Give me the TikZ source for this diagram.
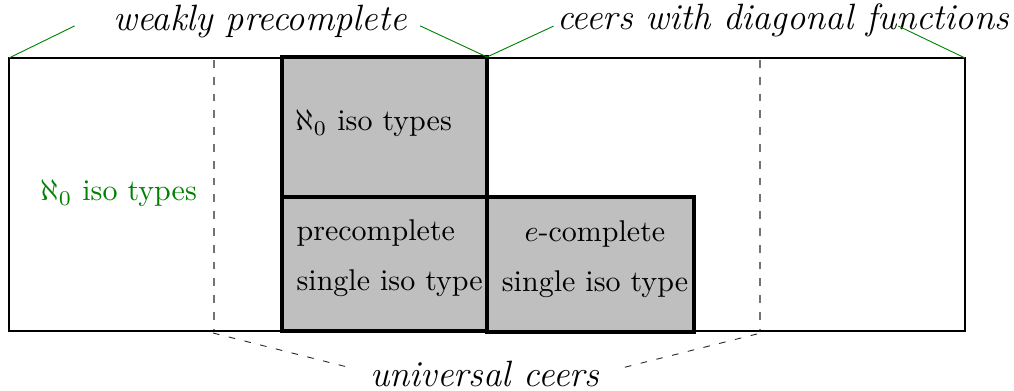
\documentclass[tikz,border=0pt]{standalone}
\usepackage{amssymb}

\definecolor{isogreen}{RGB}{0,128,0}
\definecolor{boxgray}{RGB}{191,191,191}

\tikzset{every picture/.style={line width=0.4pt}}
\tikzset{
  classbox/.style={draw=black,fill=boxgray,line width=1.3pt},
  guide/.style={draw=black!55,dash pattern=on 2.6pt off 3pt},
  spread/.style={draw=black!85,line width=0.3pt,dash pattern=on 2.2pt off 3.2pt},
  pointer/.style={draw=isogreen,line width=0.3pt},
  setname/.style={font=\fontsize{12.2}{14}\selectfont\itshape,inner sep=0pt}
}

\begin{document}
\begin{tikzpicture}[x=0.3333pt,y=0.3333pt,yscale=-1,xscale=1]
		\path[use as bounding box] (0,0) rectangle (1014,391);
		
		%Shape: Rectangle [all ceers]
		\draw   (9,58) -- (965,58) -- (965,331) -- (9,331) -- cycle ;
		%dashed bounds of the universal ceers
		\draw [guide]  (214,60) -- (214,330) ;
		\draw [guide]  (760,60) -- (760,330) ;
		%Shape: Rectangle [aleph_0 iso types, weakly precomplete]
		\draw [classbox]  (282,57) -- (487,57) -- (487,197) -- (282,197) -- cycle ;
		%Shape: Rectangle [precomplete]
		\draw [classbox]  (282,197) -- (487,197) -- (487,331) -- (282,331) -- cycle ;
		%Shape: Rectangle [e-complete]
		\draw [classbox]  (487,197) -- (694,197) -- (694,332) -- (487,332) -- cycle ;
		
		\coordinate (lcorner) at (9,58);
		\coordinate (rcorner) at (965,58);
		\coordinate (wpcorner) at (487,57);
		\coordinate (ulcorner) at (213,333);
		\coordinate (urcorner) at (757,334);
		
		\draw (260,31) node (weakly) [setname,anchor=base] {weakly precomplete};
		\draw (783,30) node (diag) [setname,anchor=base] {ceers with diagonal functions};
		\draw (485,387) node (univ) [setname,anchor=base] {universal ceers};
		
		\draw (40,201) node (alephout) [anchor=base west][inner sep=0pt][text=isogreen]  [align=left] {$\aleph_0$ iso types};
		\draw (295,131) node (alephin) [anchor=base west][inner sep=0pt]  [align=left] {$\aleph_0$ iso types};
		\draw (296,291) node (precomp) [anchor=base west][inner sep=0pt]  [align=left] {precomplete\\[4.8pt]single iso type};
		\draw (595,292) node (ecomp) [anchor=base][inner sep=0pt]  [align=center] {$e$-complete\\[4.8pt]single iso type};
		
		%pointers to the classes
		\draw [pointer]  (lcorner) -- ([xshift=-12.7pt,yshift=-1.7pt]weakly.base west) ;
		\draw [pointer]  ([xshift=4.3pt,yshift=-1.7pt]weakly.base east) -- (wpcorner) ;
		\draw [pointer]  (wpcorner) -- ([xshift=-1pt,yshift=-1.3pt]diag.base west) ;
		\draw [pointer]  ([xshift=-37pt,yshift=-1.3pt]diag.base east) -- (rcorner) ;
		\draw [spread]  (ulcorner) -- ([xshift=-7.3pt,yshift=-6.6pt]univ.base west) ;
		\draw [spread]  (urcorner) -- ([xshift=8.3pt,yshift=-6.6pt]univ.base east) ;
		
	\end{tikzpicture}
\end{document}
